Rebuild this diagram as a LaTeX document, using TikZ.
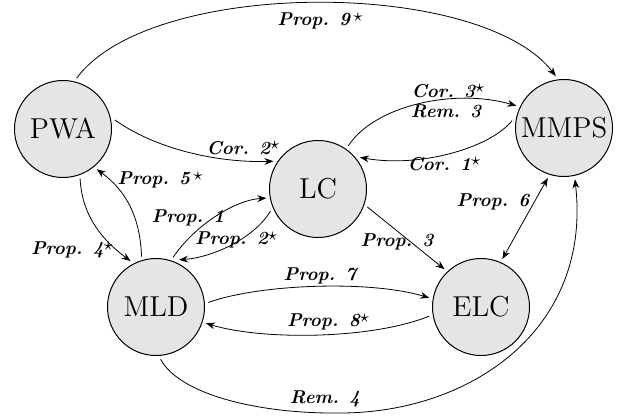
\documentclass[tikz,border=0pt]{standalone}
\usetikzlibrary{arrows.meta}
\newcommand{\stmark}{\raisebox{0.55ex}{$\star$}}
\begin{document}
\begin{tikzpicture}[x=0.5pt,y=-0.5pt,
  state/.style={circle,draw,line width=0.5pt,fill=black!10,minimum size=48.5pt,inner sep=0pt,outer sep=2pt,font=\Large},
  conn/.style={line width=0.4pt,-{Stealth[length=4.5pt,width=3.4pt]}},
  both/.style={line width=0.4pt,{Stealth[length=4.5pt,width=3.4pt]}-{Stealth[length=4.5pt,width=3.4pt]}},
  lbl/.style={font=\fontsize{9.3}{11}\selectfont\bfseries\itshape,inner sep=0pt}]
\path[use as bounding box] (0,0) rectangle (624,416);
\node[state] (PWA) at (63,129) {PWA};
\node[state] (LC) at (318,189) {LC};
\node[state] (MMPS) at (564,128) {MMPS};
\node[state] (MLD) at (156,307) {MLD};
\node[state] (ELC) at (481,307) {ELC};
% Prop 9
\draw[conn] (PWA.75) .. controls (150,-22) and (480,-22) .. (MMPS.99);
\node[lbl] (l9) at (320,21) {Prop. 9\,\stmark};
% Cor 2
\draw[conn] (PWA.10) .. controls (160,152) and (225,163) .. (LC.148);
\node[lbl] (lc2) at (243,148) {Cor. 2\stmark};
% Cor 3 / Rem 3
\draw[conn] (LC.55) .. controls (375,105) and (455,88) .. (MMPS.155);
\node[lbl] (lc3) at (448,91) {Cor. 3\stmark};
\node[lbl] (lr3) at (446,111) {Rem. 3};
% Cor 1
\draw[conn] (MMPS.172) .. controls (490,148) and (420,168) .. (LC.37);
\node[lbl] (lc1) at (444,164) {Cor. 1\stmark};
% Prop 2
\draw[conn] (LC.205) .. controls (255,237) and (215,257) .. (MLD.64);
\node[lbl] (l2) at (236,240) {Prop. 2\stmark};
% Prop 1
\draw[conn] (MLD.71) .. controls (195,225) and (235,200) .. (LC.190);
\node[lbl] (l1) at (188,218) {Prop. 1};
% Prop 5
\draw[conn] (MLD.106) .. controls (140,215) and (125,190) .. (PWA.-50);
\node[lbl] (l5) at (160,180) {Prop. 5\,\stmark};
% Prop 4
\draw[conn] (PWA.-71) .. controls (82,218) and (105,242) .. (MLD.119);
\node[lbl] (l4) at (72,250) {Prop. 4\stmark};
% Prop 3
\draw[conn] (LC.-20) -- (ELC.134);
\node[lbl] (l3) at (397,242) {Prop. 3};
% Prop 6
\draw[both] (MMPS.-108) -- (ELC.66);
\node[lbl] (l6) at (493,202) {Prop. 6};
% Prop 7
\draw[conn] (MLD.5) .. controls (260,284) and (370,280) .. (ELC.170);
\node[lbl] (l7) at (320,276) {Prop. 7};
% Prop 8
\draw[conn] (ELC.190) .. controls (370,340) and (260,340) .. (MLD.-18);
\node[lbl] (l8) at (328,322) {Prop. 8\stmark};
% Rem 4
\draw[conn] (MLD.-85) .. controls (180,395) and (260,414) .. (340,413)
  .. controls (470,413) and (592,330) .. (MMPS.-78);
\node[lbl] (lr4) at (325,399) {Rem. 4};
\end{tikzpicture}
\end{document}
